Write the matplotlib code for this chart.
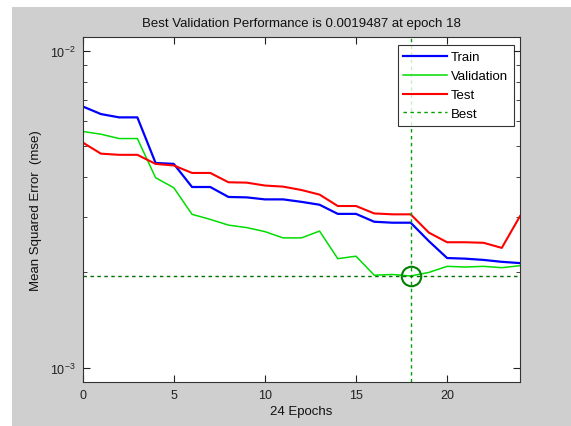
import numpy as np
import matplotlib.pyplot as plt
from matplotlib.patches import Rectangle

plt.rcParams['font.family'] = ['Liberation Sans', 'DejaVu Sans']

# performance per epoch
epochs = np.arange(25)
train = [0.00668, 0.00632, 0.00617, 0.00617, 0.00443, 0.00440, 0.00372, 0.00372,
         0.00346, 0.00345, 0.00340, 0.00340, 0.00334, 0.00327, 0.00306, 0.00306,
         0.00289, 0.00287, 0.00287, 0.00251, 0.00222, 0.00221, 0.00219, 0.00216,
         0.00214]
validation = [0.00557, 0.00546, 0.00529, 0.00529, 0.00398, 0.00370, 0.00305, 0.00294,
              0.00282, 0.00277, 0.00269, 0.00257, 0.00257, 0.00270, 0.00221, 0.00225,
              0.00196, 0.00197, 0.0019487, 0.00200, 0.00209, 0.00208, 0.00209, 0.00207,
              0.00210]
test = [0.00514, 0.00474, 0.00470, 0.00470, 0.00440, 0.00435, 0.00412, 0.00412,
        0.00385, 0.00384, 0.00376, 0.00373, 0.00364, 0.00352, 0.00324, 0.00324,
        0.00307, 0.00305, 0.00305, 0.00267, 0.00249, 0.00249, 0.00248, 0.00239,
        0.00301]
best_epoch = 18
best_perf = 0.0019487

fig = plt.figure(figsize=(5.71, 4.27), dpi=100, facecolor='white')
# gray matlab window background
fig.patches.append(Rectangle((12 / 571, 0), 1, 1 - 8 / 427, transform=fig.transFigure,
                             facecolor='#cfcfcf', edgecolor='none', zorder=-1))

ax = fig.add_axes([82.7 / 571, 1 - 383.3 / 427, (520 - 82.7) / 571, (383.3 - 38.3) / 427])
ax.set_yscale('log')

ax.plot(epochs, train, color='#0000ff', lw=1.6, label='Train')
ax.plot(epochs, validation, color='#00dd00', lw=1.1, label='Validation')
ax.plot(epochs, test, color='#ff0000', lw=1.5, label='Test')
ax.axvline(best_epoch, color='#00a000', lw=1.0, ls=(0, (2.5, 2.5)), label='Best')
ax.axhline(best_perf, color='#007000', lw=1.0, ls=(0, (2.5, 2.5)))
ax.plot(best_epoch, best_perf, 'o', mfc='none', mec='#008000', mew=1.5, ms=14)

ax.set_xlim(0, 24)
ax.set_ylim(0.0009, 0.01104)
ax.set_xticks([0, 5, 10, 15, 20])
ax.tick_params(which='both', direction='in', top=True, right=True, labelsize=9,
               colors='#222222', pad=5)
ax.tick_params(which='major', length=5)
ax.tick_params(which='minor', length=3)
for s in ax.spines.values():
    s.set_color('#333333')

ax.set_title('Best Validation Performance is 0.0019487 at epoch 18', fontsize=9.5,
             color='#111111', pad=8)
ax.set_xlabel('24 Epochs', fontsize=9.5, color='#111111', labelpad=3)
ax.set_ylabel('Mean Squared Error  (mse)', fontsize=9.5, color='#111111', labelpad=6)

leg = ax.legend(loc='upper right', bbox_to_anchor=(1 - 6 / 437.3, 1 - 8 / 345),
                borderaxespad=0, fancybox=False, edgecolor='black', fontsize=9.5,
                handlelength=3.3, handletextpad=0.3, labelspacing=0.5,
                borderpad=0.45)
leg.get_frame().set_linewidth(0.8)

fig.savefig('out.png', dpi=100, facecolor=fig.get_facecolor())
